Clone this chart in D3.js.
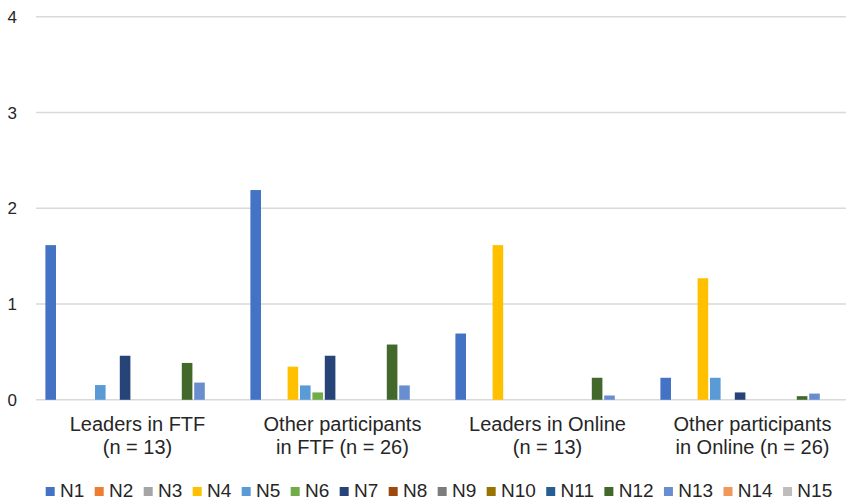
<!DOCTYPE html>
<meta charset="utf-8">
<head>
  <title>N categories by group</title>
  <script src="https://d3js.org/d3.v7.min.js"></script>
  <style>
    body { margin: 0; background: #fff; }
    text { font-family: "Liberation Sans", Arial, sans-serif; fill: #262626; }
  </style>
</head>
<body>
  <div id="my_dataviz"></div>
  <script>

    // groups on the x axis, each label split into two lines
    var groups = ["Leaders in FTF", "Other participants in FTF", "Leaders in Online", "Other participants in Online"];
    var groupLines = [
      ["Leaders in FTF", "(n = 13)"],
      ["Other participants", "in FTF (n = 26)"],
      ["Leaders in Online", "(n = 13)"],
      ["Other participants", "in Online (n = 26)"]
    ];

    var series = ["N1", "N2", "N3", "N4", "N5", "N6", "N7", "N8", "N9", "N10", "N11", "N12", "N13", "N14", "N15"];

    // one array per group, values in series order N1..N15
    var leadersFTF = [1.615, 0, 0, 0, 0.154, 0, 0.46, 0, 0, 0, 0, 0.385, 0.18, 0, 0];
    var othersFTF  = [2.19, 0, 0, 0.346, 0.15, 0.077, 0.46, 0, 0, 0, 0, 0.577, 0.15, 0, 0];
    var leadersOnl = [0.692, 0, 0, 1.615, 0, 0, 0, 0, 0, 0, 0, 0.23, 0.045, 0, 0];
    var othersOnl  = [0.23, 0, 0, 1.269, 0.23, 0, 0.077, 0, 0, 0, 0, 0.038, 0.065, 0, 0];
    var values = [leadersFTF, othersFTF, leadersOnl, othersOnl];

    var yTicks = [0, 1, 2, 3, 4];

    var colors = ["#4472C4", "#ED7D31", "#A5A5A5", "#FFC000", "#5B9BD5", "#70AD47", "#264478",
                  "#9E480E", "#7C7C7C", "#997300", "#255E91", "#43682B", "#698ED0", "#F1975A", "#BDBDBD"];

    var width = 846, height = 502;

    var svg = d3.select("#my_dataviz")
      .append("svg")
        .attr("width", width)
        .attr("height", height);

    // plot area runs past the right edge, the original is cropped there
    var x0 = d3.scaleBand()
        .domain(groups)
        .range([35, 855]);

    var x1 = d3.scaleBand()
        .domain(series)
        .range([9.5, x0.bandwidth() - 9.5]);

    var y = d3.scaleLinear()
        .domain([0, 4])
        .range([399.8, 16.7]);

    var color = d3.scaleOrdinal()
        .domain(series)
        .range(colors);

    // gridlines
    svg.append("g")
      .selectAll("line")
      .data(yTicks)
      .enter()
      .append("line")
        .attr("x1", 36)
        .attr("x2", 855)
        .attr("y1", function(d) { return y(d); })
        .attr("y2", function(d) { return y(d); })
        .attr("stroke", "#d9d9d9")
        .attr("stroke-width", 1.5);

    // y labels
    svg.append("g")
      .selectAll("text")
      .data(yTicks)
      .enter()
      .append("text")
        .attr("x", 17)
        .attr("y", function(d) { return y(d); })
        .attr("dy", "0.36em")
        .attr("text-anchor", "end")
        .style("font-size", "17px")
        .text(function(d) { return d; });

    // bars
    var gG = svg.append("g")
      .selectAll("g")
      .data(groups)
      .enter()
      .append("g")
        .attr("transform", function(d) { return "translate(" + x0(d) + ",0)"; });

    gG.selectAll("rect")
      .data(function(d, i) {
        return series.map(function(s, j) { return {key: s, value: values[i][j]}; });
      })
      .enter()
      .filter(function(d) { return d.value > 0; })
      .append("rect")
        .attr("x", function(d) { return x1(d.key) + 0.9; })
        .attr("width", x1.bandwidth() - 1.8)
        .attr("y", function(d) { return y(d.value); })
        .attr("height", function(d) { return y(0) - y(d.value); })
        .attr("fill", function(d) { return color(d.key); });

    // category labels
    var lab = svg.append("g")
      .selectAll("text")
      .data(groups)
      .enter()
      .append("text")
        .attr("text-anchor", "middle")
        .style("font-size", "20px");

    lab.selectAll("tspan")
      .data(function(d, i) { return groupLines[i]; })
      .enter()
      .append("tspan")
        .attr("x", function() { var g = d3.select(this.parentNode).datum(); return x0(g) + x0.bandwidth() / 2; })
        .attr("y", function(d, i) { return 430.7 + i * 22.8; })
        .text(function(d) { return d; });

    // legend
    var legend = svg.append("g");
    var lx = 45.7;
    series.forEach(function(s) {
      legend.append("rect")
        .attr("x", lx)
        .attr("y", 487)
        .attr("width", 9)
        .attr("height", 9)
        .attr("fill", color(s));
      var t = legend.append("text")
        .attr("x", lx + 14.3)
        .attr("y", 497)
        .style("font-size", "19px")
        .text(s);
      lx += 14.3 + t.node().getComputedTextLength() + 10.4;
    });

  </script>
</body>
